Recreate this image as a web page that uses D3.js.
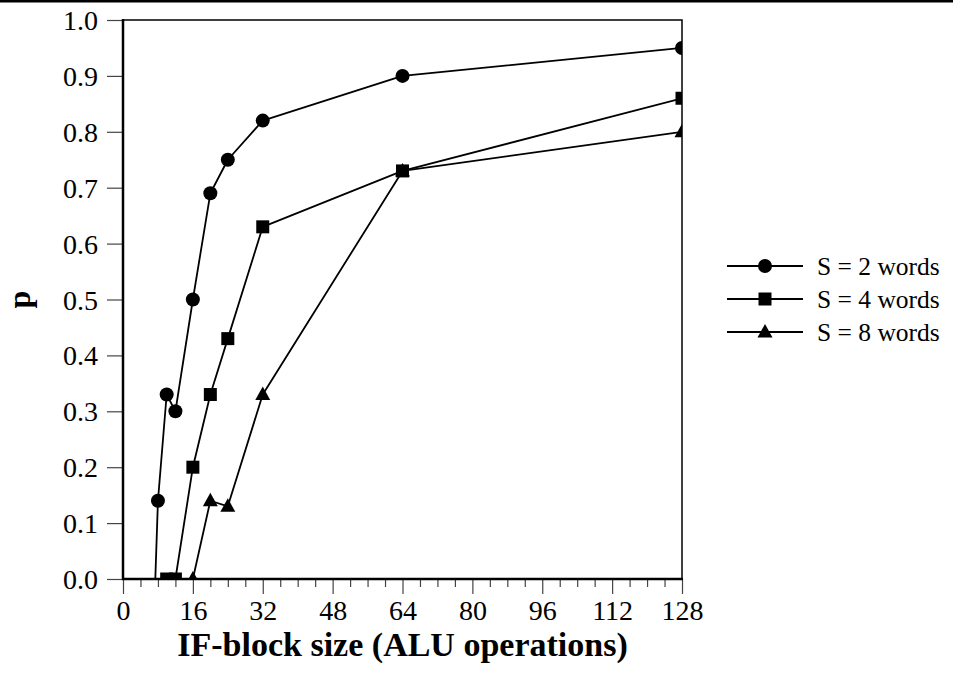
<!DOCTYPE html>
<html>
<head>
<meta charset="utf-8">
<script src="https://cdn.jsdelivr.net/npm/d3@7/dist/d3.min.js"></script>
<style>
  html, body { margin: 0; padding: 0; background: #fff; }
  svg { display: block; }
</style>
</head>
<body>
<svg id="chart" width="953" height="675"></svg>
<script>
// IF-block size (ALU operations) for each measured point
const s2Sizes = [8, 10, 12, 16, 20, 24, 32, 64, 128];
const s2P     = [0.14, 0.33, 0.30, 0.50, 0.69, 0.75, 0.82, 0.90, 0.95];
// the S = 2 curve leaves the axis just before its first measured point
const s2Start = [7.4, 0];

const s4Sizes = [10, 12, 16, 20, 24, 32, 64, 128];
const s4P     = [0.00, 0.00, 0.20, 0.33, 0.43, 0.63, 0.73, 0.86];

const s8Sizes = [16, 20, 24, 32, 64, 128];
const s8P     = [0.00, 0.14, 0.13, 0.33, 0.73, 0.80];

const seriesNames = ["S = 2 words", "S = 4 words", "S = 8 words"];
const markerKinds = ["circle", "square", "triangle"];

const xTickValues = [0, 16, 32, 48, 64, 80, 96, 112, 128];
const yTickValues = [0, 0.1, 0.2, 0.3, 0.4, 0.5, 0.6, 0.7, 0.8, 0.9, 1.0];

const xLabel = "IF-block size (ALU operations)";
const yLabel = "p";

const FONT = "'Liberation Serif', 'Times New Roman', serif";

const svg = d3.select("#chart");
const W = 953, H = 675;
const plotL = 123, plotR = 682, plotT = 20, plotB = 579;

const x = d3.scaleLinear().domain([0, 128]).range([plotL, plotR]);
const y = d3.scaleLinear().domain([0, 1]).range([plotB, plotT]);

// rule across the top of the page
svg.append("rect").attr("x", 0).attr("y", 0).attr("width", W).attr("height", 2.5).attr("fill", "#000");

// ticks
const yAxis = d3.axisLeft(y).tickValues(yTickValues).tickSize(16).tickPadding(8)
  .tickFormat(d3.format(".1f"));
const gy = svg.append("g").attr("transform", `translate(${plotL},0)`).call(yAxis)
  .attr("font-family", FONT).attr("font-size", 28);
gy.select(".domain").remove();
gy.selectAll(".tick line").attr("stroke", "#444").attr("stroke-width", 1.2);
gy.selectAll(".tick text").attr("dy", "0.34em").attr("x", -25).attr("fill", "#000");

const minorTicks = d3.range(0, 129, 4).filter(v => v % 16 !== 0);
const gxMinor = svg.append("g").attr("transform", `translate(0,${plotB})`)
  .call(d3.axisBottom(x).tickValues(minorTicks).tickSize(8).tickFormat(""));
gxMinor.select(".domain").remove();
gxMinor.selectAll(".tick line").attr("stroke", "#444").attr("stroke-width", 1.2);

const gx = svg.append("g").attr("transform", `translate(0,${plotB})`)
  .call(d3.axisBottom(x).tickValues(xTickValues).tickSize(15).tickPadding(4).tickFormat(d3.format("d")))
  .attr("font-family", FONT).attr("font-size", 28);
gx.select(".domain").remove();
gx.selectAll(".tick line").attr("stroke", "#444").attr("stroke-width", 1.2);
gx.selectAll(".tick text").attr("dy", "0.77em").attr("fill", "#000");

// plot frame
svg.append("rect").attr("x", plotL).attr("y", plotT).attr("width", plotR - plotL).attr("height", plotB - plotT)
  .attr("fill", "none").attr("stroke", "#000").attr("stroke-width", 1.5);
svg.append("line").attr("x1", plotL).attr("x2", plotL).attr("y1", plotT - 1).attr("y2", plotB + 1)
  .attr("stroke", "#000").attr("stroke-width", 2.5);
svg.append("line").attr("x1", plotL - 1).attr("x2", plotR + 1).attr("y1", plotB).attr("y2", plotB)
  .attr("stroke", "#000").attr("stroke-width", 2.5);

// data area, clipped to the frame
svg.append("clipPath").attr("id", "plotClip").append("rect")
  .attr("x", plotL).attr("y", plotT).attr("width", plotR - plotL).attr("height", plotB - plotT);
const plot = svg.append("g").attr("clip-path", "url(#plotClip)");

const line = d3.line().x(d => x(d[0])).y(d => y(d[1]));

function markerPath(kind) {
  if (kind === "circle") return "M7,0A7,7 0 1,1 -7,0A7,7 0 1,1 7,0Z";
  if (kind === "square") return "M-6.5,-6.5H6.5V6.5H-6.5Z";
  return "M0,-8L7.5,5.5L-7.5,5.5Z";
}

const series = [
  { pts: [s2Start].concat(s2Sizes.map((s, i) => [s, s2P[i]])), marks: s2Sizes.map((s, i) => [s, s2P[i]]), kind: markerKinds[0] },
  { pts: s4Sizes.map((s, i) => [s, s4P[i]]), marks: s4Sizes.map((s, i) => [s, s4P[i]]), kind: markerKinds[1] },
  { pts: s8Sizes.map((s, i) => [s, s8P[i]]), marks: s8Sizes.map((s, i) => [s, s8P[i]]), kind: markerKinds[2] }
];

series.forEach(sr => {
  plot.append("path").datum(sr.pts).attr("d", line)
    .attr("fill", "none").attr("stroke", "#000").attr("stroke-width", 1.8).attr("stroke-linejoin", "round");
  plot.selectAll(null).data(sr.marks).enter().append("path")
    .attr("d", markerPath(sr.kind))
    .attr("transform", d => `translate(${x(d[0])},${y(d[1])})`)
    .attr("fill", "#000");
});

// axis titles
svg.append("text").attr("x", (plotL + plotR) / 2).attr("y", 656).attr("text-anchor", "middle")
  .attr("font-family", FONT).attr("font-size", 34).attr("font-weight", "bold").text(xLabel);
svg.append("text").attr("transform", `translate(30,${(plotT + plotB) / 2}) rotate(-90)`)
  .attr("text-anchor", "middle").attr("font-family", FONT).attr("font-size", 32)
  .attr("font-weight", "bold").text(yLabel);

// legend
const legY = [266, 299, 332];
seriesNames.forEach((name, i) => {
  const g = svg.append("g").attr("transform", `translate(0,${legY[i]})`);
  g.append("line").attr("x1", 727).attr("x2", 803).attr("y1", 0).attr("y2", 0)
    .attr("stroke", "#000").attr("stroke-width", 1.8);
  g.append("path").attr("d", markerPath(markerKinds[i])).attr("transform", "translate(765,0)").attr("fill", "#000");
  g.append("text").attr("x", 817).attr("y", 0).attr("dy", "0.34em")
    .attr("font-family", FONT).attr("font-size", 25.5).text(name);
});
</script>
</body>
</html>
